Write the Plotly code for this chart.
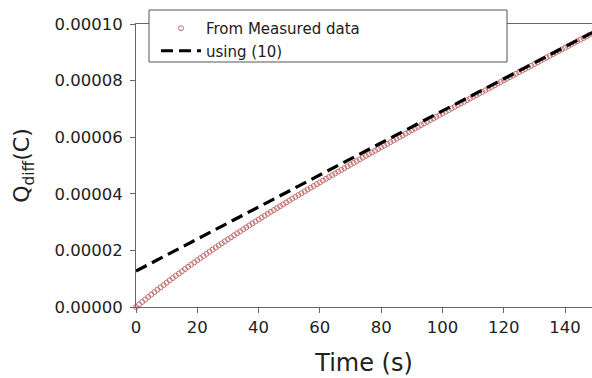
import numpy as np
import plotly.graph_objects as go

# Measured Q_diff in units of 1e-5 C, sampled every 1 s from t = 0
time_meas = list(range(0, 151))
q_meas_e5 = [
    0.000, 0.090, 0.178, 0.266, 0.353, 0.440, 0.526, 0.610, 0.694, 0.777,
    0.860, 0.942, 1.023, 1.104, 1.183, 1.263, 1.342, 1.420, 1.498, 1.575,
    1.652, 1.728, 1.803, 1.879, 1.953, 2.027, 2.101, 2.174, 2.247, 2.319,
    2.391, 2.463, 2.534, 2.605, 2.675, 2.745, 2.816, 2.884, 2.954, 3.022,
    3.091, 3.159, 3.226, 3.294, 3.361, 3.428, 3.495, 3.561, 3.628, 3.693,
    3.759, 3.825, 3.890, 3.955, 4.019, 4.084, 4.149, 4.213, 4.277, 4.340,
    4.404, 4.468, 4.531, 4.594, 4.656, 4.719, 4.782, 4.844, 4.907, 4.968,
    5.031, 5.093, 5.154, 5.216, 5.277, 5.339, 5.400, 5.461, 5.522, 5.582,
    5.643, 5.704, 5.764, 5.825, 5.885, 5.945, 6.006, 6.065, 6.126, 6.185,
    6.245, 6.305, 6.364, 6.424, 6.483, 6.543, 6.602, 6.661, 6.721, 6.779,
    6.839, 6.898, 6.956, 7.016, 7.074, 7.133, 7.192, 7.250, 7.309, 7.367,
    7.426, 7.485, 7.542, 7.601, 7.659, 7.717, 7.776, 7.834, 7.892, 7.950,
    8.008, 8.066, 8.124, 8.182, 8.239, 8.297, 8.356, 8.413, 8.471, 8.528,
    8.587, 8.645, 8.702, 8.760, 8.817, 8.875, 8.933, 8.989, 9.047, 9.104,
    9.162, 9.220, 9.277, 9.334, 9.391, 9.449, 9.506, 9.563, 9.621, 9.677,
    9.735,
]

# Model line "using (10)" endpoints, units of 1e-5 C
time_model = [0, 150]
q_model_e5 = [1.27, 9.76]

x_ticks = [0, 20, 40, 60, 80, 100, 120, 140]
y_ticks = [0.0, 0.00002, 0.00004, 0.00006, 0.00008, 0.00010]

q_meas = np.array(q_meas_e5) * 1e-5
q_model = np.array(q_model_e5) * 1e-5

W, H = 592, 378
ML, MT, MB, MR = 136, 24, 71, 0
pw = W - ML - MR
ph = H - MT - MB

FONT = "DejaVu Sans, Liberation Sans, Arial, sans-serif"

fig = go.Figure()
fig.add_trace(go.Scatter(
    x=time_meas, y=q_meas, mode="markers", name="From Measured data",
    marker=dict(symbol="circle-open", size=5, color="#c46f6f",
                line=dict(width=1, color="#c46f6f")),
    cliponaxis=False,
))
fig.add_trace(go.Scatter(
    x=time_model, y=q_model, mode="lines", name="using (10)",
    line=dict(color="black", width=3.2, dash="12px,6px"),
))

def px_x(p):
    return (p - ML) / pw

def px_y(p):
    return (H - MB - p) / ph

# legend box
fig.add_shape(type="rect", xref="paper", yref="paper",
              x0=px_x(149), x1=px_x(507), y0=px_y(62), y1=px_y(10),
              line=dict(color="#555555", width=1), fillcolor="white",
              layer="above")

fig.update_layout(
    width=W, height=H,
    margin=dict(l=ML, r=MR, t=MT, b=MB),
    paper_bgcolor="white", plot_bgcolor="white",
    font=dict(family=FONT, color="#222222"),
    showlegend=True,
    legend=dict(x=px_x(156), y=px_y(12), xanchor="left", yanchor="top",
                bgcolor="rgba(0,0,0,0)", borderwidth=0,
                font=dict(size=15, color="#222222", family=FONT),
                tracegroupgap=0, itemwidth=40),
    xaxis=dict(range=[0, 148.8], tickvals=x_ticks, ticks="outside", ticklen=5,
               tickcolor="#666666", showline=True, linecolor="#666666",
               linewidth=1, mirror=True, showgrid=False, zeroline=False,
               tickfont=dict(size=16.5), title=dict(text="Time (s)",
               font=dict(size=24), standoff=18)),
    yaxis=dict(range=[0, 0.0001], tickvals=y_ticks, tickformat=".5f",
               ticks="outside", ticklen=5, tickcolor="#666666",
               ticklabelstandoff=4,
               showline=True, linecolor="#666666", linewidth=1,
               showgrid=False, zeroline=False, tickfont=dict(size=16.5),
               title=dict(text="Q<sub>diff</sub>(C)", font=dict(size=22),
                          standoff=18)),
)

fig.write_html("out.html")
